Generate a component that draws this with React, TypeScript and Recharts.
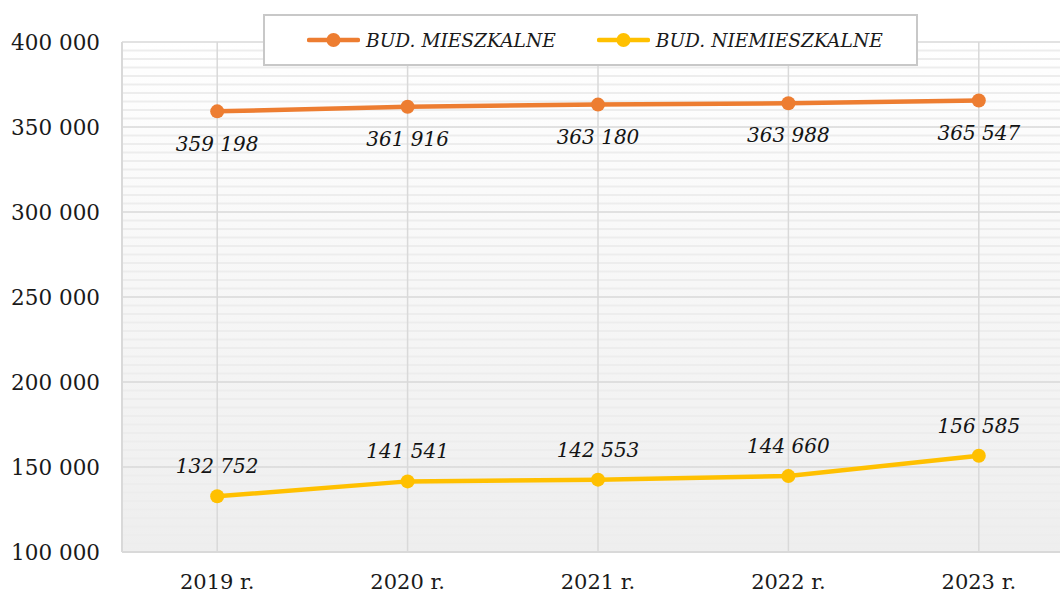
import { LineChart, Line, XAxis, YAxis, CartesianGrid, LabelList } from "recharts"

const years = ["2019 r.", "2020 r.", "2021 r.", "2022 r.", "2023 r."]
const mieszkalne = [359198, 361916, 363180, 363988, 365547]
const niemieszkalne = [132752, 141541, 142553, 144660, 156585]
const yTicks = [100000, 150000, 200000, 250000, 300000, 350000, 400000]

const ORANGE = "#ED7D31"
const YELLOW = "#FFC000"
const FONT = "'DejaVu Serif', serif"

const data = years.map((year, i) => ({
  year,
  mieszkalne: mieszkalne[i],
  niemieszkalne: niemieszkalne[i],
}))

// faint minor lines every 5 000 (the banding in the original background)
const minorLines: number[] = []
for (let v = 105000; v < 400000; v += 5000) {
  if (v % 50000 !== 0) minorLines.push(v)
}

const fmt = (v: any) => String(v).replace(/\B(?=(\d{3})+(?!\d))/g, " ")

function LegendItem({ color, label }: { color: string; label: string }) {
  return (
    <div style={{ display: "flex", alignItems: "center" }}>
      <svg width={53} height={16} style={{ marginRight: 6 }}>
        <line x1={2} y1={8} x2={51} y2={8} stroke={color} strokeWidth={4.5} strokeLinecap="round" />
        <circle cx={26.5} cy={8} r={7} fill={color} />
      </svg>
      <span style={{ fontStyle: "italic", fontSize: 18.6, fontFamily: FONT, color: "#1a1a1a" }}>{label}</span>
    </div>
  )
}

export default function App() {
  return (
    <div
      style={{
        position: "fixed",
        left: 0,
        top: 0,
        width: 1060,
        height: 593,
        overflow: "hidden",
        background: "#fff",
      }}
    >
      <LineChart width={1080} height={593} data={data} margin={{ top: 42, right: 6, left: 0, bottom: 0 }}>
        <defs>
          <linearGradient id="bg" x1="0" y1="0" x2="0" y2="1">
            <stop offset="0%" stopColor="#ffffff" />
            <stop offset="100%" stopColor="#eeeeee" />
          </linearGradient>
        </defs>
        <CartesianGrid fill="url(#bg)" vertical={false} horizontalValues={minorLines} stroke="#ededed" strokeWidth={2} />
        <CartesianGrid stroke="#d9d9d9" strokeWidth={1.5} />
        <XAxis
          dataKey="year"
          scale="band"
          height={41}
          tickSize={0}
          tickMargin={22}
          axisLine={{ stroke: "#d9d9d9", strokeWidth: 2 }}
          tick={{ fill: "#1a1a1a", fontSize: 21, fontFamily: FONT }}
        />
        <YAxis
          width={122}
          domain={[100000, 400000]}
          ticks={yTicks}
          interval={0}
          tickSize={0}
          tickMargin={22}
          tickFormatter={fmt}
          axisLine={{ stroke: "#d9d9d9", strokeWidth: 2 }}
          tick={{ fill: "#1a1a1a", fontSize: 21.5, fontFamily: FONT }}
        />
        <Line
          dataKey="mieszkalne"
          stroke={ORANGE}
          strokeWidth={4.5}
          dot={{ r: 7, fill: ORANGE, stroke: ORANGE, strokeWidth: 0 }}
          isAnimationActive={false}
        >
          <LabelList
            dataKey="mieszkalne"
            position="bottom"
            offset={25}
            formatter={fmt}
            style={{ fontStyle: "italic", fontSize: 20, fontFamily: FONT, fill: "#141414" }}
          />
        </Line>
        <Line
          dataKey="niemieszkalne"
          stroke={YELLOW}
          strokeWidth={4.5}
          dot={{ r: 7, fill: YELLOW, stroke: YELLOW, strokeWidth: 0 }}
          isAnimationActive={false}
        >
          <LabelList
            dataKey="niemieszkalne"
            position="top"
            offset={23}
            formatter={fmt}
            style={{ fontStyle: "italic", fontSize: 20, fontFamily: FONT, fill: "#141414" }}
          />
        </Line>
      </LineChart>
      <div
        style={{
          position: "absolute",
          left: 263,
          top: 14,
          width: 655,
          height: 52,
          boxSizing: "border-box",
          border: "2px solid #c8c8c8",
          background: "#fff",
          display: "flex",
          alignItems: "center",
          paddingLeft: 42,
          gap: 41,
        }}
      >
        <LegendItem color={ORANGE} label="BUD. MIESZKALNE" />
        <LegendItem color={YELLOW} label="BUD. NIEMIESZKALNE" />
      </div>
    </div>
  )
}
